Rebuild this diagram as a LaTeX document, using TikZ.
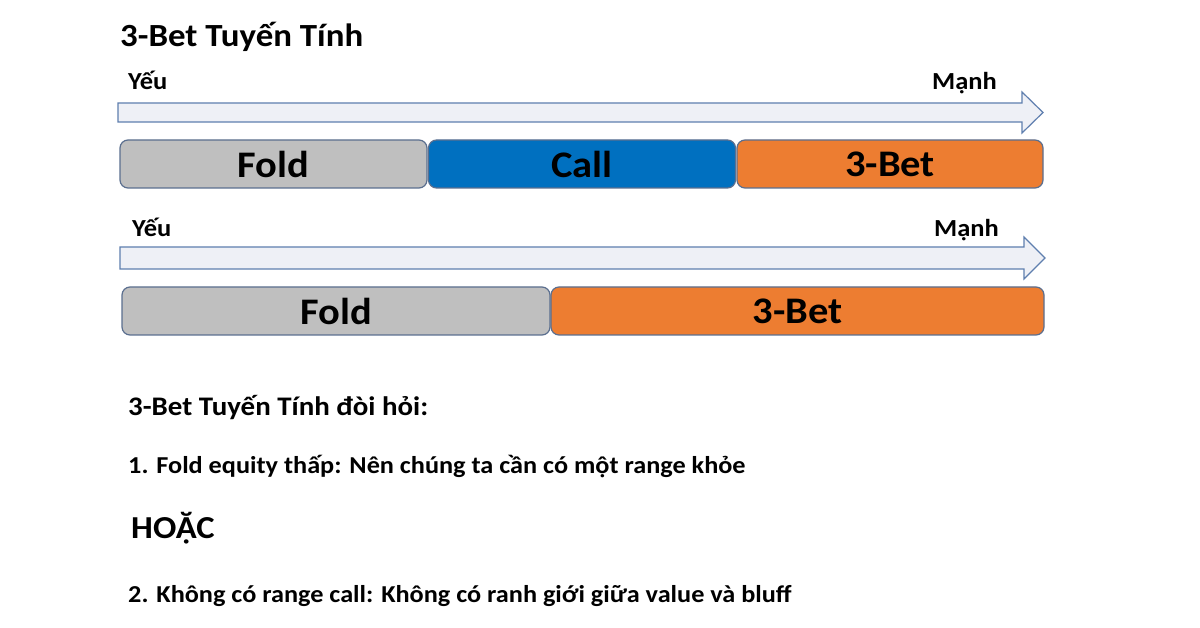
\documentclass[tikz,border=0pt]{standalone}
\usepackage{fontspec}
\setmainfont{Carlito}[FakeStretch=1.08]
\definecolor{gfill}{HTML}{BFBFBF}
\definecolor{bfill}{HTML}{0070C0}
\definecolor{ofill}{HTML}{ED7D31}
\definecolor{edge}{HTML}{5B6F8F}
\definecolor{afill}{HTML}{EEF0F6}
\definecolor{aedge}{HTML}{5F7FAF}
\begin{document}
\begin{tikzpicture}[x=1pt,y=-1pt,
  bar/.style={draw=edge, line width=1.2pt, rounded corners=8pt, minimum height=48pt, inner sep=0pt, font=\bfseries\fontsize{37.5}{40}\selectfont, text=black},
  lbl/.style={anchor=base west, inner sep=0pt, font=\bfseries\fontsize{24.5}{28}\selectfont},
  txt/.style={anchor=base west, inner sep=0pt, font=\bfseries\fontsize{24.3}{28}\selectfont},
  arr/.style={draw=aedge, fill=afill, line width=1.2pt, line join=miter}]
\useasboundingbox[fill=white] (0,0) rectangle (1200,628);
% title
\node[anchor=base west, inner sep=0pt, font=\bfseries\fontsize{32.3}{36}\selectfont] (title) at (120,47) {3-Bet Tuyến Tính};
% first arrow
\draw[arr] (118,103) -- (1022,103) -- (1022,92) -- (1043,112.5) -- (1022,133) -- (1022,122) -- (118,122) -- cycle;
\node[lbl] (weak1) at (128,90) {Yếu};
\node[lbl, anchor=base east] (strong1) at (997,90) {Mạnh};
% first row
\node[bar, fill=gfill, minimum width=307pt] (fold1) at (273.5,164) {Fold};
\node[bar, fill=bfill, minimum width=307pt] (call1) at (582,164) {Call};
\node[bar, fill=ofill, minimum width=306pt] (bet1) at (890,164) {3-Bet};
% second arrow
\draw[arr] (120,247) -- (1024,247) -- (1024,237) -- (1045,258) -- (1024,279) -- (1024,269) -- (120,269) -- cycle;
\node[lbl] (weak2) at (132,237) {Yếu};
\node[lbl, anchor=base east] (strong2) at (999,237) {Mạnh};
% second row
\node[bar, fill=gfill, minimum width=428pt] (fold2) at (336,311) {Fold};
\node[bar, fill=ofill, minimum width=493pt] (bet2) at (797.5,311) {3-Bet};
% text
\node[txt, font=\bfseries\fontsize{26.8}{30}\selectfont] (req) at (128,415) {3-Bet Tuyến Tính đòi hỏi:};
\node[txt] (item1) at (128,473) {1. Fold equity thấp: Nên chúng ta cần có một range khỏe};
\node[anchor=base west, inner sep=0pt, font=\bfseries\fontsize{32}{36}\selectfont] (or) at (131,538) {HOẶC};
\node[txt] (item2) at (128,602) {2. Không có range call: Không có ranh giới giữa value và bluff};
\end{tikzpicture}
\end{document}
